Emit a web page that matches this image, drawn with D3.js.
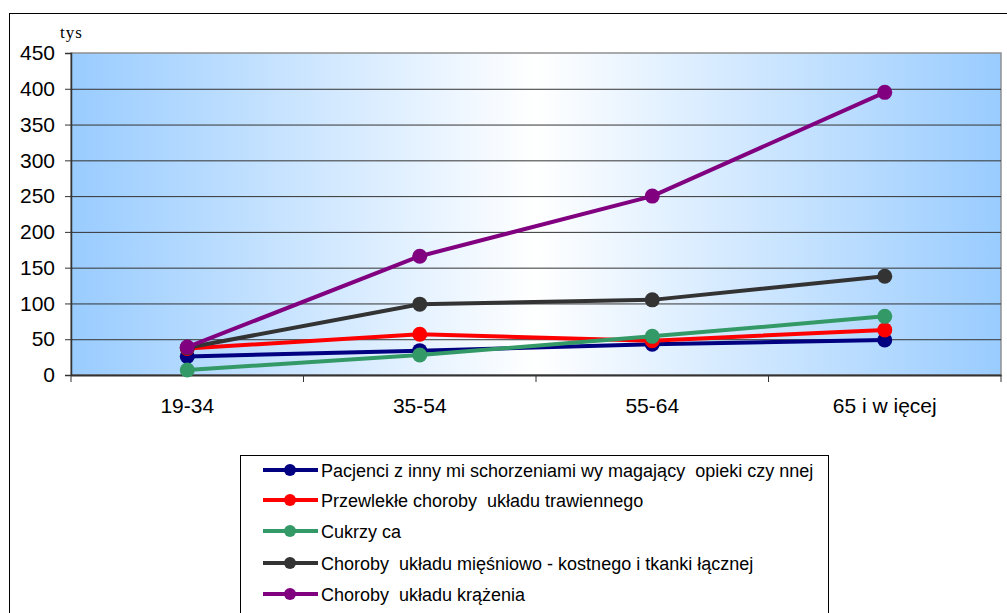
<!DOCTYPE html>
<html><head><meta charset="utf-8">
<script src="https://cdn.jsdelivr.net/npm/d3@7"></script>
<style>body{margin:0;background:#fff}svg{display:block}</style>
</head><body>
<script>
const categories = ["19-34", "35-54", "55-64", "65 i w ięcej"];
const seriesNames = [
  "Pacjenci z inny mi schorzeniami wy magający  opieki czy nnej",
  "Przewlekłe choroby  układu trawiennego",
  "Cukrzy ca",
  "Choroby  układu mięśniowo - kostnego i tkanki łącznej",
  "Choroby  układu krążenia"
];
const seriesColors = ["#000080", "#ff0000", "#339966", "#333333", "#800080"];
const valsPacjenci = [26, 34, 43, 49];
const valsTrawienny = [37, 57, 48, 63];
const valsCukrzyca = [7, 28, 54, 82];
const valsMiesniowo = [38, 99, 105, 138];
const valsKrazenia = [39, 166, 250, 395];
const yTicks = [0, 50, 100, 150, 200, 250, 300, 350, 400, 450];
const unitLabel = "tys";

const series = [valsPacjenci, valsTrawienny, valsCukrzyca, valsMiesniowo, valsKrazenia];

const W = 1007, H = 613;
const svg = d3.select("body").append("svg").attr("width", W).attr("height", H);

// outer frame
svg.append("rect").attr("x", 9.5).attr("y", 13.5).attr("width", W + 10).attr("height", H + 10)
  .attr("fill", "#fff").attr("stroke", "#000").attr("stroke-width", 1);

const L = 71, R = 1001, T = 53, B = 375;
const x = d3.scaleBand().domain(categories).range([L, R]);
const y = d3.scaleLinear().domain([0, 450]).range([B, T]);

const defs = svg.append("defs");
const grad = defs.append("linearGradient").attr("id", "bg").attr("x1", "0").attr("x2", "1").attr("y1", "0").attr("y2", "0");
grad.append("stop").attr("offset", "0").attr("stop-color", "#99ccff");
grad.append("stop").attr("offset", "0.5").attr("stop-color", "#ffffff");
grad.append("stop").attr("offset", "1").attr("stop-color", "#99ccff");

svg.append("rect").attr("x", L).attr("y", T).attr("width", R - L).attr("height", B - T)
  .attr("fill", "url(#bg)").attr("stroke", "#909090").attr("stroke-width", 1.5);

// gridlines
svg.append("g").selectAll("line").data(yTicks.filter(d => d > 0 && d < 450)).join("line")
  .attr("x1", L).attr("x2", R).attr("y1", d => y(d) + 0.5).attr("y2", d => y(d) + 0.5)
  .attr("stroke", "#333").attr("stroke-width", 1);

const font = "Liberation Sans, Arial, sans-serif";

// y axis
const yAxis = svg.append("g").attr("transform", `translate(${L},0)`)
  .call(d3.axisLeft(y).tickValues(yTicks).tickSize(6).tickPadding(10));
yAxis.select(".domain").attr("stroke", "#333").attr("stroke-width", 1.5);
yAxis.selectAll(".tick line").attr("stroke", "#333");
yAxis.selectAll("text").attr("font-family", font).attr("font-size", 21).attr("fill", "#000");

// x axis
const xAxis = svg.append("g").attr("transform", `translate(0,${B})`)
  .call(d3.axisBottom(x).tickSize(0).tickPadding(23));
xAxis.select(".domain").attr("stroke", "#333").attr("stroke-width", 2);
xAxis.selectAll("text").attr("font-family", font).attr("font-size", 21).attr("fill", "#000");
const bounds = categories.map(c => x(c)).concat([R]);
svg.append("g").selectAll("line").data(bounds).join("line")
  .attr("x1", d => d).attr("x2", d => d).attr("y1", B).attr("y2", B + 7)
  .attr("stroke", "#333").attr("stroke-width", 1);

svg.append("text").attr("x", 60).attr("y", 38).text(unitLabel)
  .attr("font-family", "Liberation Serif, Times New Roman, serif").attr("font-size", 17).attr("letter-spacing", 1);

// lines
const cx = c => x(c) + x.bandwidth() / 2;
const line = d3.line().x((d, i) => cx(categories[i])).y(d => y(d));
series.forEach((vals, si) => {
  const g = svg.append("g");
  g.append("path").attr("d", line(vals)).attr("fill", "none")
    .attr("stroke", seriesColors[si]).attr("stroke-width", 4).attr("stroke-linejoin", "round");
  g.selectAll("circle").data(vals).join("circle")
    .attr("cx", (d, i) => cx(categories[i])).attr("cy", d => y(d)).attr("r", 7.5)
    .attr("fill", seriesColors[si]);
});

// legend
const lg = svg.append("g");
lg.append("rect").attr("x", 240.5).attr("y", 455.5).attr("width", 588).attr("height", 170)
  .attr("fill", "#fff").attr("stroke", "#000").attr("stroke-width", 1);
const rowY = [470, 500, 531, 563, 594];
seriesNames.forEach((n, i) => {
  lg.append("line").attr("x1", 263).attr("x2", 318).attr("y1", rowY[i]).attr("y2", rowY[i])
    .attr("stroke", seriesColors[i]).attr("stroke-width", 4);
  lg.append("circle").attr("cx", 290).attr("cy", rowY[i]).attr("r", 6).attr("fill", seriesColors[i]);
  lg.append("text").attr("x", 321).attr("y", rowY[i] + 6.5).text(n)
    .attr("font-family", font).attr("font-size", 18).attr("fill", "#000")
    .style("white-space", "pre");
});
</script>
</body></html>
